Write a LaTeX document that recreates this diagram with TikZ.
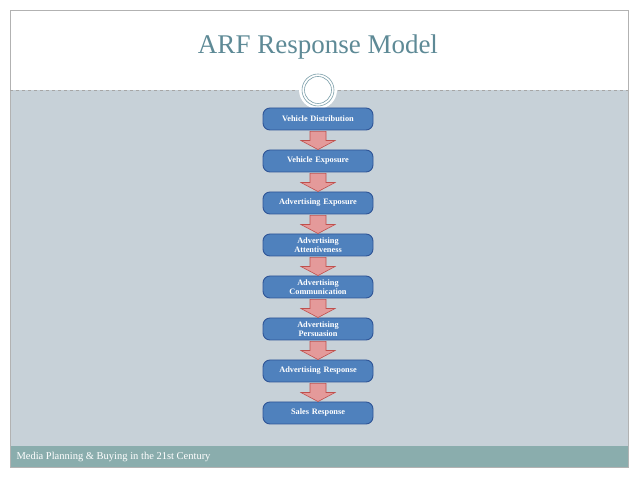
\documentclass[tikz,border=0pt]{standalone}
\usepackage{fontspec}
\setmainfont{Liberation Serif}
\usetikzlibrary{calc}
\definecolor{bgc}{HTML}{C7D1D8}
\definecolor{foot}{HTML}{8AADAD}
\definecolor{boxf}{HTML}{4F81BD}
\definecolor{boxd}{HTML}{2F5597}
\definecolor{arrf}{HTML}{E49A9A}
\definecolor{arrd}{HTML}{C0504D}
\definecolor{titc}{HTML}{5E8A96}
\tikzset{
 stagebox/.style={draw=boxd,line width=0.9pt,fill=boxf,rounded corners=7pt,minimum width=110pt,minimum height=22pt,text width=106pt,align=center,text=white,font=\bfseries\fontsize{8.3}{9.5}\selectfont,inner sep=0pt},
 downarrow/.style={draw=arrd,fill=arrf,line width=0.6pt}
}
\begin{document}
\begin{tikzpicture}[x=1pt,y=-1pt]
\useasboundingbox (0,0) rectangle (638,478);
\fill[white] (0,0) rectangle (638,478);
\fill[bgc] (10,90) rectangle (628,446);
\fill[foot] (10,446) rectangle (628,467);
\draw[gray!60,line width=0.4pt] (10,10) rectangle (628,467);
\draw[gray!70,dashed,line width=0.4pt] (10,90) -- (298,90);
\draw[gray!70,dashed,line width=0.4pt] (338,90) -- (628,90);
\fill[white] (318,90) circle (19);
\draw[titc!80,line width=0.6pt] (318,90) circle (16);
\draw[titc!80,line width=0.6pt] (318,90) circle (13.5);
\node[text=titc,font=\fontsize{27}{30}\selectfont] (title) at (318,47) {ARF Response Model};
\node[text=white,anchor=west,font=\fontsize{10.5}{12}\selectfont] (ft) at (13,457) {Media Planning \& Buying in the 21st Century};
\foreach \i/\y/\t in {1/119/Vehicle Distribution,2/161/Vehicle Exposure,3/203/Advertising Exposure,4/245/Advertising\\Attentiveness,5/287/Advertising\\Communication,6/329/Advertising\\Persuasion,7/371/Advertising Response,8/413/Sales Response}
  \node[stagebox] (b\i) at (318,\y) {\t};
\foreach \a/\b in {1/2,2/3,3/4,4/5,5/6,6/7,7/8}{
  \draw[downarrow] ($(b\a.south)+(-8,1)$) -- ($(b\a.south)+(8,1)$) -- ($(b\b.north)+(8,-9)$) -- ($(b\b.north)+(17,-9)$) -- ($(b\b.north)+(0,0)$) -- ($(b\b.north)+(-17,-9)$) -- ($(b\b.north)+(-8,-9)$) -- cycle;
}
\end{tikzpicture}
\end{document}
